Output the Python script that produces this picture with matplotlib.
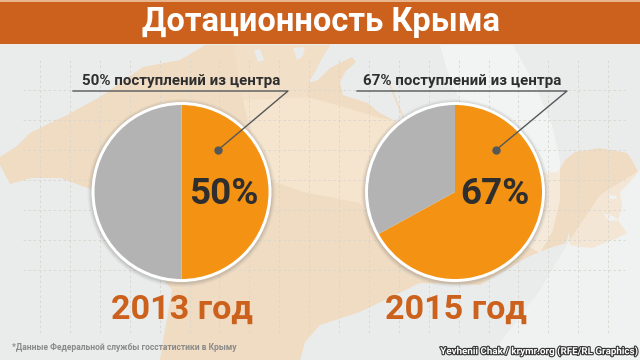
# -*- coding: utf-8 -*-
import numpy as np
import matplotlib
matplotlib.use("Agg")
import matplotlib.pyplot as plt
import matplotlib.patheffects as pe
from matplotlib.patches import Circle, Polygon, Rectangle

plt.rcParams['font.family'] = ['Roboto', 'Noto Sans', 'DejaVu Sans']

title = "Дотационность Крыма"
years = ["2013 год", "2015 год"]
center_share = [50, 67]
other_share = [50, 33]
captions = ["50% поступлений из центра", "67% поступлений из центра"]
footnote = "*Данные Федеральной службы госстатистики в Крыму"
credit = "Yevhenii Chak / krymr.org (RFE/RL Graphics)"

ORANGE = "#f39213"
GREY = "#b2b3b2"
RUST = "#cb611c"
DARK = "#2e2e2e"
BG = "#eaecec"
LAND = "#f0dcc3"

# outline of the peninsula behind the pies, in picture pixels
land_xy = [(0, 157), (17, 146), (30, 133), (50, 123), (67, 115), (100, 97), (143, 67), (180, 60),
           (197, 50), (205, 45), (330, 45), (322, 58), (315, 72), (308, 83), (318, 80), (330, 68),
           (342, 62), (352, 57), (356, 62), (345, 72), (340, 82), (343, 95), (355, 99), (368, 103),
           (378, 112), (403, 125), (430, 150), (500, 175), (543, 173), (558, 172), (565, 160),
           (575, 152), (600, 148), (627, 153), (632, 160), (638, 172), (630, 182), (620, 192),
           (622, 207), (618, 220), (627, 233), (617, 238), (592, 248), (582, 247), (570, 245),
           (569, 232), (566, 243), (550, 248), (537, 253), (528, 257), (480, 285), (420, 283),
           (395, 295), (360, 312), (320, 325), (305, 342), (300, 360), (160, 360), (165, 330),
           (172, 290), (120, 225), (93, 190), (60, 178), (32, 178), (10, 184), (0, 165)]
mid_land_xy = [(233, 45), (240, 90), (243, 100), (307, 97), (308, 83), (322, 58), (330, 45)]
light_land_xy = [(243, 100), (250, 130), (270, 180), (303, 192), (360, 203), (367, 217),
                 (420, 210), (440, 190), (445, 130), (380, 118), (337, 105), (307, 97)]
lake_a_xy = [(293, 48), (305, 47), (303, 56), (297, 60)]
lake_b_xy = [(254, 50), (260, 49), (264, 60), (258, 62)]
lake_c_xy = [(608, 195), (616, 196), (617, 199), (610, 199)]
lake_d_xy = [(603, 214), (613, 216), (619, 220), (610, 221)]
swoosh_xy = [(440, 45), (513, 45), (535, 85), (552, 125), (560, 160), (560, 200), (553, 230),
             (540, 253), (500, 230), (500, 170), (470, 120), (450, 80)]
swoosh_low_xy = [(640, 170), (600, 195), (572, 237), (540, 290), (487, 360), (640, 360)]


def py(y):
    return 360 - y


def patch(points, color, z, alpha=1.0):
    ax.add_patch(Polygon([(x, py(y)) for x, y in points], fc=color, ec="none", alpha=alpha, zorder=z))


fig = plt.figure(figsize=(6.4, 3.6), dpi=100)
ax = fig.add_axes([0, 0, 1, 1])
fig.patch.set_facecolor(BG)

patch(land_xy, LAND, 1)
patch(mid_land_xy, "#f2dfc8", 1.05)
patch(light_land_xy, "#f5e4ce", 1.1)
for lake in [lake_a_xy, lake_b_xy, lake_c_xy, lake_d_xy]:
    patch(lake, BG, 1.15)
patch(swoosh_xy, "#ffffff", 1.2, alpha=0.4)
patch(swoosh_low_xy, "#ffffff", 1.2, alpha=0.3)
ax.plot([390, 396, 403], [py(85), py(100), py(117)], color=LAND, lw=1.2, zorder=1)

# dashed grid
for gx in np.arange(40, 620, 29.9):
    ax.plot([gx, gx], [py(60), py(335)], color="#d9d5cd", lw=0.6, ls=(0, (3, 3)), zorder=1.5)
for gy in np.arange(90, 300, 30):
    ax.plot([23, 625], [py(gy), py(gy)], color="#d9d5cd", lw=0.6, ls=(0, (3, 3)), zorder=1.5)

# title band
ax.add_patch(Rectangle((0, py(2)), 640, 2, fc="#e8b48c", ec="none", zorder=2))
ax.add_patch(Rectangle((0, py(44)), 640, 42, fc=RUST, ec="none", zorder=2))
ax.text(321, py(22), title, color="white", fontsize=23.5, fontweight="bold",
        ha="center", va="center", zorder=6)

pie_x = [181.5, 455]
line_start = [73, 357]
line_end = [288, 567]
dot_x = [218, 496]
big_x = [224, 495]
year_x = [182, 456]
caption_x = [181, 462.5]
pie_y = 192
R = 87

for i in range(2):
    cx = pie_x[i]
    # soft shadow under the white ring
    for k, a in zip([94, 93, 92, 91], [0.04, 0.05, 0.07, 0.09]):
        ax.add_patch(Circle((cx, py(pie_y + 1)), k, fc="#555555", alpha=a, ec="none", zorder=2.5))
    ax.add_patch(Circle((cx, py(pie_y)), R + 3, fc="white", ec="none", zorder=2.8))
    wedges, _ = ax.pie([center_share[i], other_share[i]], colors=[ORANGE, GREY], startangle=90,
                       counterclock=False, center=(cx, py(pie_y)), radius=R, frame=True)
    for w in wedges:
        w.set_zorder(3)
    ax.plot([line_start[i], line_end[i], dot_x[i]], [py(91), py(91), py(150)], color="#55585a", lw=1.0, zorder=4)
    ax.plot(dot_x[i], py(150), "o", color="#55585a", ms=5, zorder=4)
    ax.text(caption_x[i], py(81), captions[i], color=DARK, fontsize=10.9, fontweight="bold",
            ha="center", va="center", zorder=5)
    ax.text(big_x[i], py(194), "%d%%" % center_share[i], color=DARK, fontsize=26.5, fontweight="bold",
            ha="center", va="center", zorder=5)
    ax.text(year_x[i], py(310), years[i], color=RUST, fontsize=24.6, fontweight="bold",
            ha="center", va="center", zorder=5)

ax.text(12, py(348), footnote, color="#8a8a8a", fontsize=6.15, fontweight="bold", ha="left", va="center", zorder=5)
ax.text(636, py(351), credit, color="white", fontsize=7.05, fontweight="bold", ha="right", va="center", zorder=5,
        path_effects=[pe.withStroke(linewidth=1.6, foreground="#333333")])

ax.set_aspect("auto")
ax.set_xlim(0, 640)
ax.set_ylim(0, 360)
ax.axis("off")
fig.savefig("out.png", dpi=100, facecolor=BG)
